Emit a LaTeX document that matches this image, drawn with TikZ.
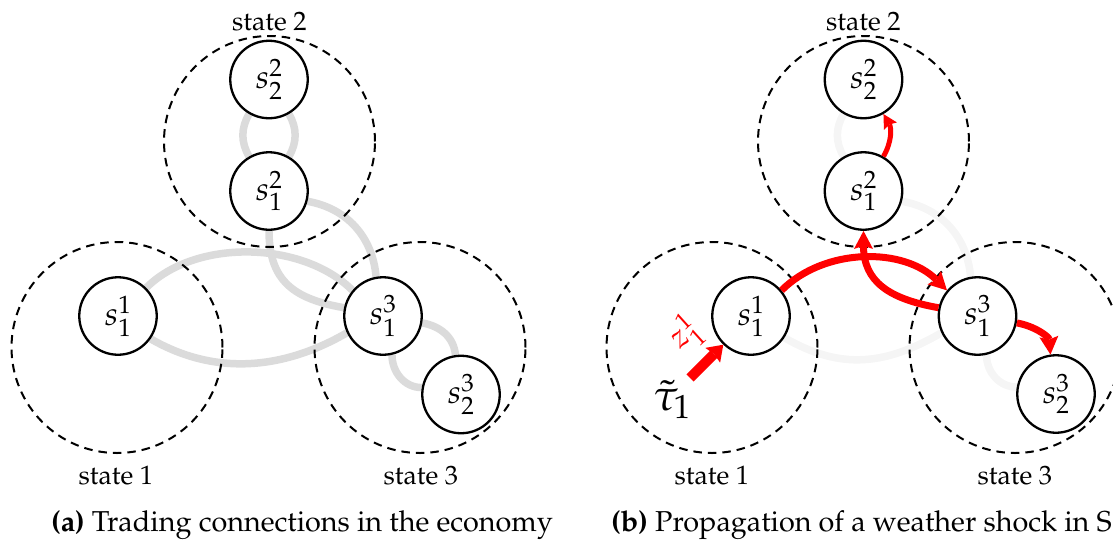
\documentclass[tikz,border=0pt]{standalone}
\usepackage[T1]{fontenc}
\usepackage{mathpazo}
\usetikzlibrary{arrows.meta,backgrounds}
\definecolor{edgegray}{gray}{0.86}
\definecolor{fadegray}{gray}{0.96}
\definecolor{shockred}{RGB}{255,0,0}
\tikzset{
  agent/.style={circle,draw=black,line width=2.3pt,fill=white,minimum size=77.5pt,inner sep=0pt,font=\fontsize{33}{38}\selectfont},
  region/.style={circle,draw=black,line width=2pt,dash pattern=on 8.5pt off 6pt,minimum size=211pt,inner sep=0pt},
  statelabel/.style={font=\fontsize{26.6}{32}\selectfont,inner sep=0pt,anchor=base},
  captiontext/.style={font=\fontsize{28.8}{34}\selectfont,inner sep=0pt,anchor=base west},
  trade/.style={draw=edgegray,line width=7.5pt},
  faded/.style={draw=fadegray,line width=7.5pt},
  shock/.style={draw=shockred,line width=7pt,-{Stealth[length=18pt,width=19pt,inset=3pt,line width=0pt]}},
}
\begin{document}
\begin{tikzpicture}[x=1pt,y=1pt]
\useasboundingbox (0,0) rectangle (1113,-541);
\clip (0,0) rectangle (1113,-541);
% ---------- panel (a) ----------
\node[region] (L1) at (117,-347.5) {};
\node[region] (L2) at (269.5,-141.5) {};
\node[region] (L3) at (420,-347.5) {};
\node[statelabel] (L1lab) at (116,-484) {state 1};
\node[statelabel] (L2lab) at (269.5,-30) {state 2};
\node[statelabel] (L3lab) at (421,-484) {state 3};
\node[agent] (a11) at (118,-316) {$s^1_1$};
\node[agent] (a13) at (383,-316) {$s^3_1$};
\node[agent] (a23) at (461,-394.5) {$s^3_2$};
\node[agent] (a12) at (269,-191) {$s^2_1$};
\node[agent] (a22) at (269,-79.5) {$s^2_2$};
% ---------- panel (b) ----------
\node[region] (R1) at (712,-347.5) {};
\node[region] (R2) at (863.5,-141.5) {};
\node[region] (R3) at (1015,-347.5) {};
\node[statelabel] (R1lab) at (712,-484) {state 1};
\node[statelabel] (R2lab) at (863.5,-30) {state 2};
\node[statelabel] (R3lab) at (1015,-484) {state 3};
\node[agent] (b11) at (751,-316) {$s^1_1$};
\node[agent] (b13) at (977.5,-316) {$s^3_1$};
\node[agent] (b23) at (1056,-394) {$s^3_2$};
\node[agent] (b12) at (863.5,-191) {$s^2_1$};
\node[agent] (b22) at (863.5,-79.5) {$s^2_2$};
% grey trade links
\begin{scope}[on background layer]
\draw[trade] (a11.45) .. controls +(45:70) and +(135:70) .. (a13.140);
\draw[trade] (a11.-35) .. controls +(-30:74) and +(-150:74) .. (a13.-155);
\draw[trade] (a12.-15) .. controls +(-10:40) and +(95:40) .. (a13.100);
\draw[trade] (a12.270) to[out=-90,in=170,looseness=1.2] (a13.168);
\draw[trade] (a13.-10) to[out=-10,in=95] (a23.98);
\draw[trade] (a13.-77) to[out=-90,in=180] (a23.170);
\draw[trade] (a22.240) to[out=240,in=120] (a12.120);
\draw[trade] (a22.300) to[out=300,in=60] (a12.60);
\draw[faded] (b11.-33) .. controls +(-30:65) and +(-150:65) .. (b13.-155);
\draw[faded] (b12.-15) .. controls +(-10:40) and +(95:40) .. (b13.100);
\draw[faded] (b13.-77) to[out=-90,in=180] (b23.170);
\draw[faded] (b22.240) to[out=240,in=120] (b12.120);
\end{scope}
% red shock propagation
\draw[shock] (b11.40) .. controls +(45:61) and +(135:61) .. (b13.140);
\draw[shock] (b13.168) to[out=170,in=-90,looseness=1.2] (b12.270);
\draw[shock] (b13.-10) to[out=-10,in=95] (b23.98);
\draw[shock,line width=5pt,-{Stealth[length=14pt,width=15pt,inset=2pt,line width=0pt]}] (b12.60) to[out=60,in=300] (b22.300);
\node[font=\fontsize{44}{50}\selectfont,inner sep=0pt,anchor=base west] (tau) at (653,-410) {$\tilde{\tau}_1$};
\coordinate (taustart) at (690,-378);
\draw[shock,line width=10pt,-{Stealth[length=15pt,width=21pt,inset=2pt,line width=0pt]}] (taustart) -- (b11.226);
\node[text=shockred,rotate=42,font=\fontsize{32}{38}\selectfont,inner sep=0pt] (zlab) at (685,-334) {$z^1_1$};
% captions
\node[captiontext] (capa) at (51,-531) {\textbf{(a)} Trading connections in the economy};
\node[captiontext] (capb) at (611,-531) {\textbf{(b)} Propagation of a weather shock in S};
\end{tikzpicture}
\end{document}
